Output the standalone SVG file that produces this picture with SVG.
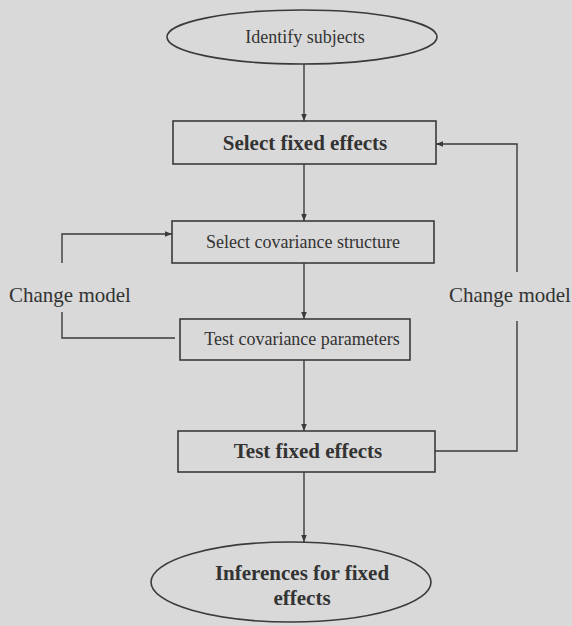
<svg xmlns="http://www.w3.org/2000/svg" width="572" height="626" viewBox="0 0 572 626">
<defs>
<marker id="arr" viewBox="0 0 10 10" refX="10" refY="5" markerWidth="7" markerHeight="7" orient="auto" markerUnits="userSpaceOnUse">
<path d="M0,1 L10,5 L0,9 Z" fill="#3a3a3a"/>
</marker>
</defs>
<style>
.shape{fill:none;stroke:#3a3a3a;stroke-width:1.6}
.line{fill:none;stroke:#3a3a3a;stroke-width:1.4}
.t{font-family:"Liberation Serif",serif;fill:#333;text-anchor:middle}
.b{font-weight:bold}
</style>
<rect width="572" height="626" fill="#d9d9d9"/>
<g id="connectors">
<line class="line" x1="304" y1="64" x2="304" y2="121" marker-end="url(#arr)"/>
<line class="line" x1="304" y1="164" x2="304" y2="221" marker-end="url(#arr)"/>
<line class="line" x1="304" y1="263" x2="304" y2="319" marker-end="url(#arr)"/>
<line class="line" x1="304" y1="360" x2="304" y2="431" marker-end="url(#arr)"/>
<line class="line" x1="304" y1="472" x2="304" y2="542" marker-end="url(#arr)"/>
<polyline class="line" points="175,338 62,338 62,312"/>
<polyline class="line" points="62,263 62,234 172,234" marker-end="url(#arr)"/>
<polyline class="line" points="435,451 517,451 517,321"/>
<polyline class="line" points="517,272 517,144 436,144" marker-end="url(#arr)"/>
<text class="t" x="70" y="302" font-size="21">Change model</text>
<text class="t" x="510" y="302" font-size="21">Change model</text>
</g>
<g id="identify">
<ellipse class="shape" cx="302" cy="37" rx="135" ry="27"/>
<text class="t" x="305" y="43" font-size="18">Identify subjects</text>
</g>
<g id="select-fixed">
<rect class="shape" x="173" y="121" width="263" height="43"/>
<text class="t b" x="305" y="150" font-size="21">Select fixed effects</text>
</g>
<g id="select-cov">
<rect class="shape" x="172" y="221" width="262" height="42"/>
<text class="t" x="303" y="248" font-size="18">Select covariance structure</text>
</g>
<g id="test-cov">
<rect class="shape" x="180" y="319" width="230" height="41"/>
<text class="t" x="302" y="345" font-size="18">Test covariance parameters</text>
</g>
<g id="test-fixed">
<rect class="shape" x="178" y="431" width="257" height="41"/>
<text class="t b" x="308" y="458" font-size="21">Test fixed effects</text>
</g>
<g id="inferences">
<ellipse class="shape" cx="291" cy="582" rx="140" ry="40"/>
<text class="t b" x="302" y="580" font-size="21">Inferences for fixed</text>
<text class="t b" x="302" y="605" font-size="21">effects</text>
</g>
</svg>
